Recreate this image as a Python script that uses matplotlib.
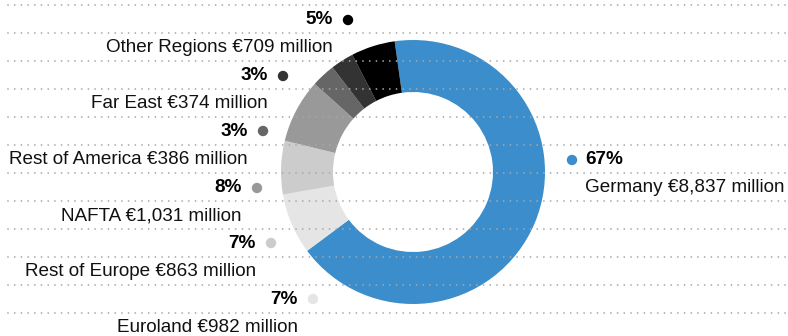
import matplotlib

matplotlib.use("Agg")

import matplotlib.pyplot as plt
from matplotlib.patches import Circle

regions = ["Germany", "Euroland", "Rest of Europe", "NAFTA",
           "Rest of America", "Far East", "Other Regions"]
sales_m = [8837, 982, 863, 1031, 386, 374, 709]
shares = [67, 7, 7, 8, 3, 3, 5]
colors = ["#3b8dcb", "#e5e5e5", "#cccccc", "#999999", "#666666", "#333333", "#000000"]

W, H = 788, 336


def Y(p):
    return H - p


fig = plt.figure(figsize=(W / 100, H / 100), dpi=100)
ax = fig.add_axes([0, 0, 1, 1])

plt.rcParams["font.family"] = ["Liberation Sans", "DejaVu Sans"]

# donut, clockwise from top
ax.pie(sales_m, colors=colors, startangle=98, counterclock=False,
       center=(413, Y(172)), radius=132, frame=True,
       wedgeprops=dict(width=52, linewidth=0))
ax.set_xlim(0, W)
ax.set_ylim(0, H)
ax.set_aspect("equal")
ax.axis("off")

# dotted guide lines
for p in range(5, 330, 28):
    ax.plot([8, 788], [Y(p), Y(p)], color="#a8a8a8", lw=1.3,
            linestyle=(0, (0.01, 3.7)), dash_capstyle="round", zorder=5)

# label anchors (right edge of text, y of percent line) for left side
anchors = {
    "Euroland": (298, 299),
    "Rest of Europe": (256, 243),
    "NAFTA": (242, 188),
    "Rest of America": (248, 131),
    "Far East": (268, 76),
    "Other Regions": (333, 20),
}

fs = 13.6
for name, val, pct, col in zip(regions, sales_m, shares, colors):
    label = f"{name} €{val:,} million"
    if name == "Germany":
        x, p = 585, 160
        ax.add_patch(Circle((572, Y(p)), 5.2, color=col, lw=0, zorder=6))
        ax.text(x, Y(p), f"{pct}%", ha="left", va="center", fontsize=fs,
                fontweight="bold", color="black")
        ax.text(x, Y(p + 28), label, ha="left", va="center", fontsize=fs, color="#111111")
    else:
        x, p = anchors[name]
        ax.add_patch(Circle((x + 15, Y(p)), 5.2, color=col, lw=0, zorder=6))
        ax.text(x, Y(p), f"{pct}%", ha="right", va="center", fontsize=fs,
                fontweight="bold", color="black")
        ax.text(x, Y(p + 28), label, ha="right", va="center", fontsize=fs, color="#111111")

fig.savefig("out.png", dpi=100, facecolor="white")
